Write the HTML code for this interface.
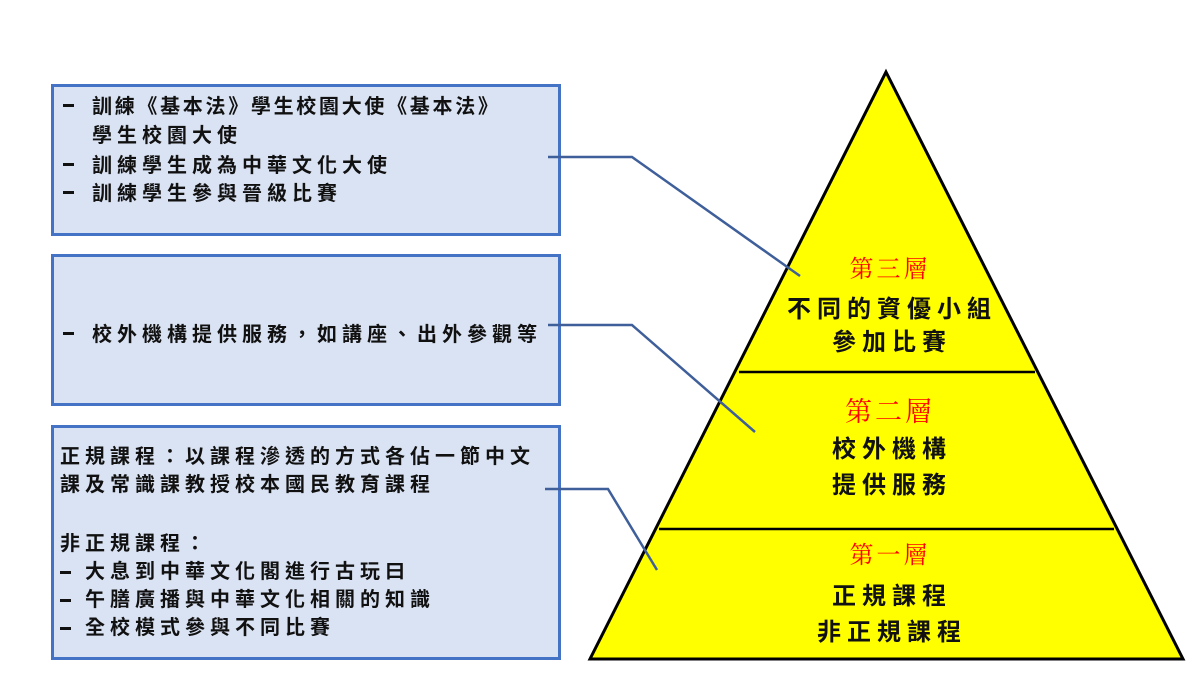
<!DOCTYPE html>
<html><head><meta charset="utf-8"><style>
body{margin:0;width:1200px;height:675px;background:#fff;overflow:hidden;position:relative;font-family:"Liberation Sans","Noto Sans CJK TC",sans-serif;}
.box{position:absolute;left:51px;width:510px;background:#dae3f3;border:3px solid #4472c4;box-sizing:border-box;}
.t{position:absolute;font-size:20px;font-weight:bold;color:#111;letter-spacing:5px;white-space:nowrap;}
.d{position:absolute;width:11px;height:3px;background:#111;}
.di{display:inline-block;width:11px;height:3px;background:#111;vertical-align:middle;margin-right:14px;}
</style></head><body>
<div class="box" style="top:84px;height:152px"></div>
<div class="box" style="top:254px;height:152px"></div>
<div class="box" style="top:425px;height:235px"></div>
<div class="d" style="left:63px;top:104px"></div><div class="t" style="left:92px;top:90px;letter-spacing:2.7px">訓練《基本法》學生校園大使《基本法》</div>
<div class="t" style="left:92px;top:119px">學生校園大使</div>
<div class="d" style="left:63px;top:163px"></div><div class="t" style="left:92px;top:149px">訓練學生成為中華文化大使</div>
<div class="d" style="left:63px;top:191px"></div><div class="t" style="left:92px;top:177px">訓練學生參與晉級比賽</div>
<div class="d" style="left:63px;top:332px"></div><div class="t" style="left:92px;top:318px">校外機構提供服務，如講座、出外參觀等</div>
<div class="t" style="left:60px;top:440px">正規課程：以課程滲透的方式各佔一節中文</div>
<div class="t" style="left:60px;top:468px">課及常識課教授校本國民教育課程</div>
<div class="t" style="left:60px;top:527px">非正規課程：</div>
<div class="t" style="left:60px;top:555px"><span class="di"></span>大息到中華文化閣進行古玩曰</div>
<div class="t" style="left:60px;top:583px"><span class="di"></span>午膳廣播與中華文化相關的知識</div>
<div class="t" style="left:60px;top:611px"><span class="di"></span>全校模式參與不同比賽</div>
<svg width="1200" height="675" style="position:absolute;left:0;top:0">
<polygon points="886,72 1183,659 590,659" fill="#ffff00" stroke="#000" stroke-width="3"/>
<line x1="739" y1="372" x2="1035" y2="372" stroke="#000" stroke-width="2.5"/>
<line x1="659" y1="529" x2="1114" y2="529" stroke="#000" stroke-width="2.5"/>
<g fill="none" stroke="#3f5f9a" stroke-width="2.5">
<polyline points="548,157 632,157 800,276"/>
<polyline points="548,325 632,325 755,432"/>
<polyline points="545,489 608,489 657,570"/>
</g>
<g font-family="Liberation Serif,Noto Serif CJK SC,serif" fill="#ff0000" text-anchor="middle" font-size="24" letter-spacing="3">
<text x="890" y="277">第三層</text>
<text x="890" y="421" font-size="27">第二層</text>
<text x="890" y="563">第一層</text>
</g>
<g font-family="Liberation Sans,Noto Sans CJK TC,sans-serif" font-weight="bold" fill="#111" text-anchor="middle" font-size="24" letter-spacing="6">
<text x="892" y="317">不同的資優小組</text>
<text x="892" y="350">參加比賽</text>
<text x="892" y="457">校外機構</text>
<text x="892" y="493">提供服務</text>
<text x="892" y="604">正規課程</text>
<text x="892" y="640">非正規課程</text>
</g>
</svg>
</body></html>
